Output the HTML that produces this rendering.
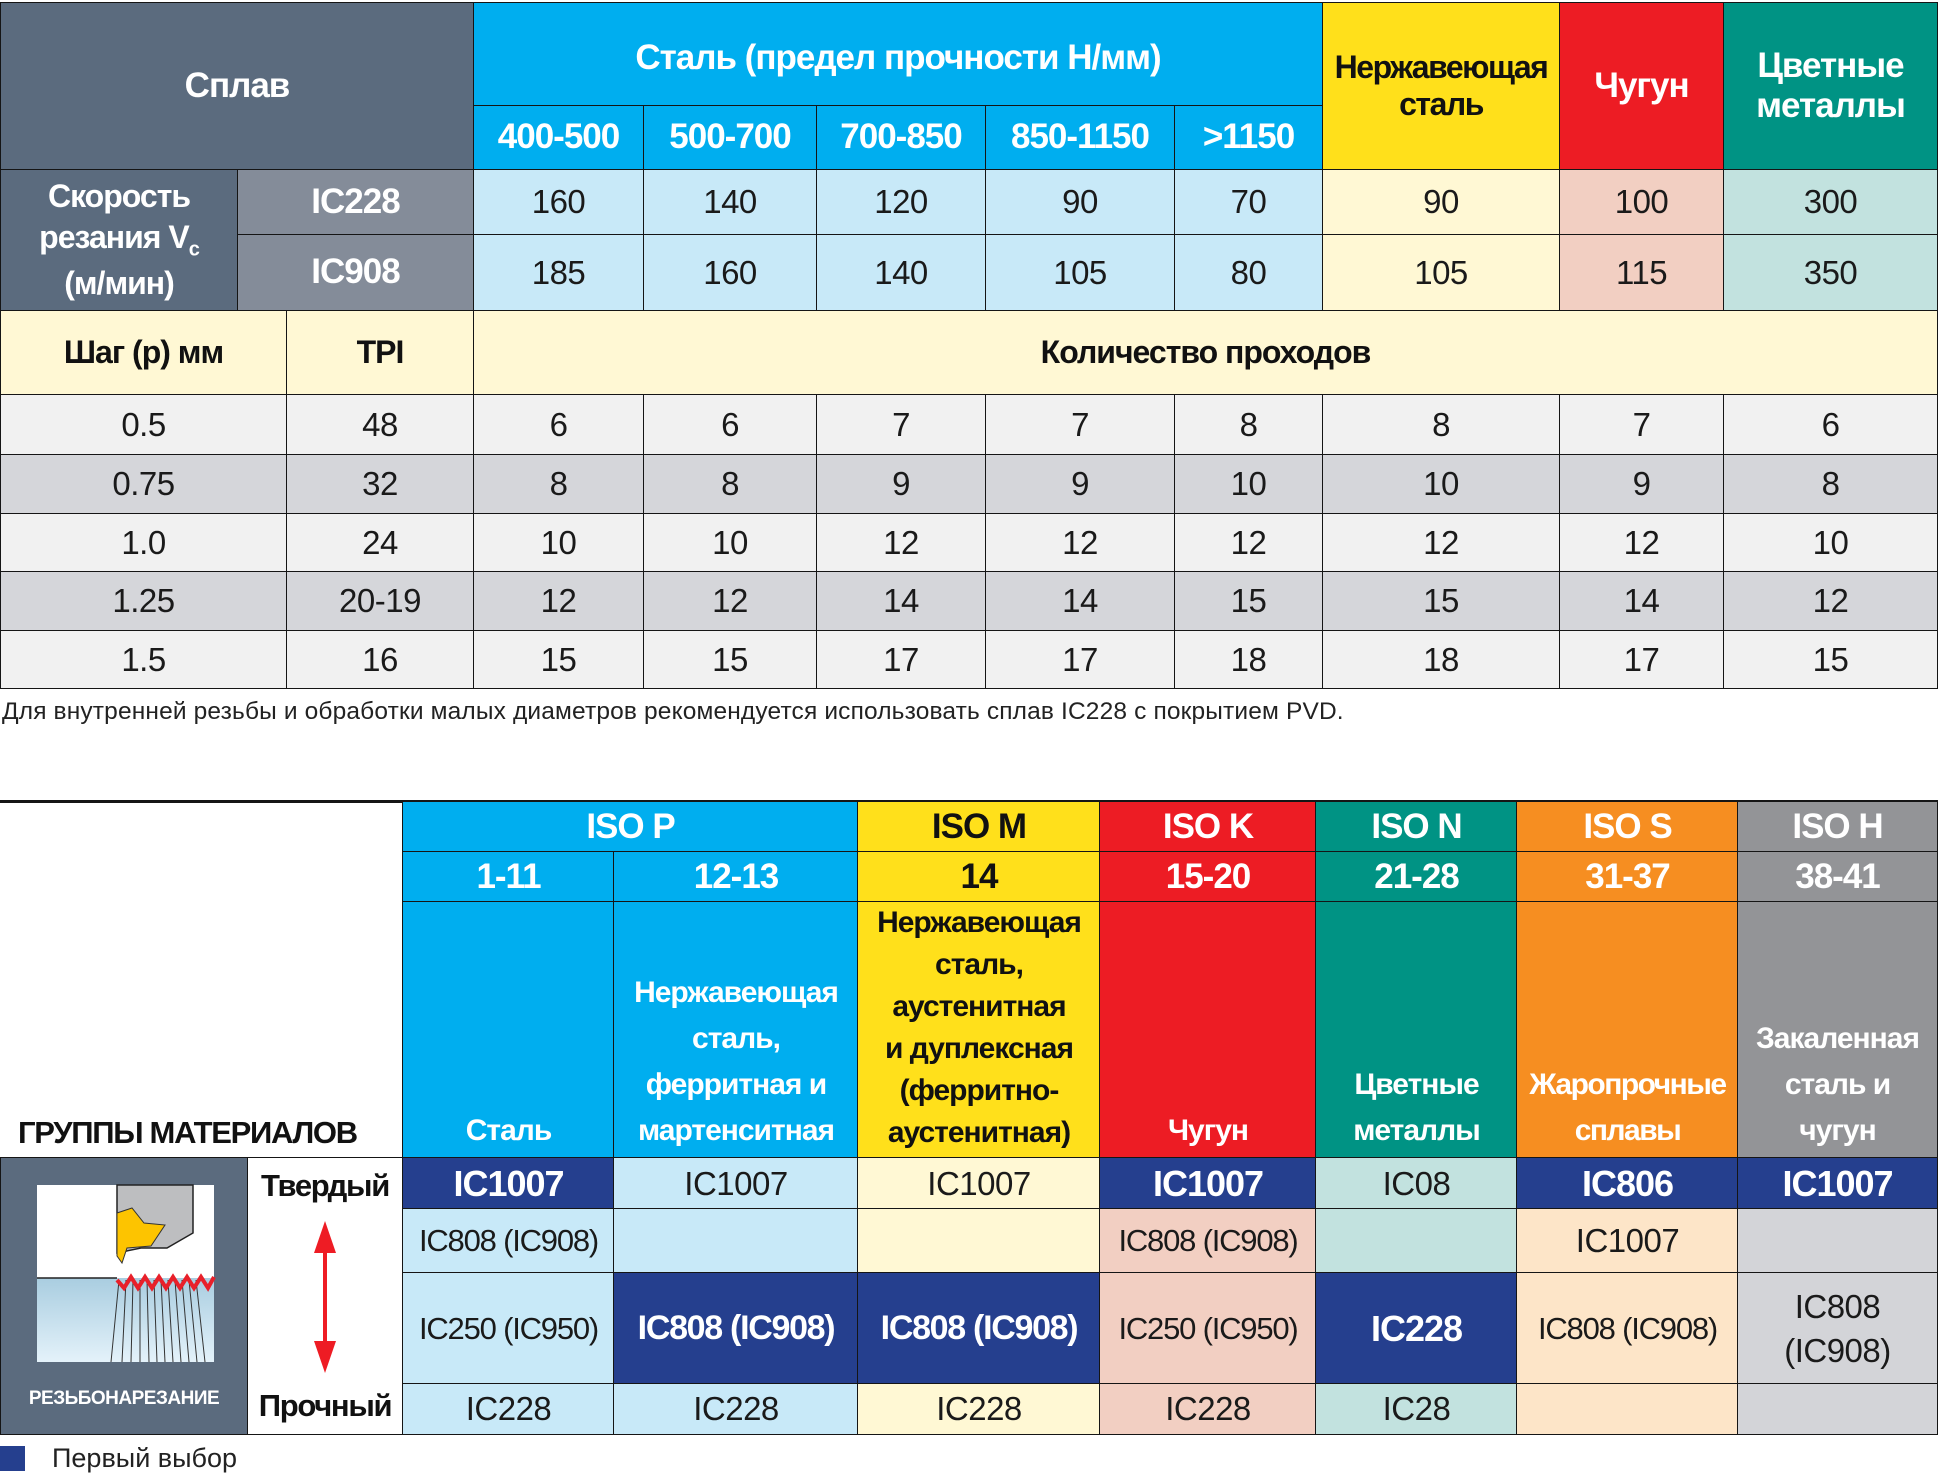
<!DOCTYPE html>
<html><head><meta charset="utf-8"><style>
body{margin:0;width:1938px;height:1483px;background:#fff;position:relative;overflow:hidden;font-family:"Liberation Sans Narrow","Liberation Sans",sans-serif;}
.c{position:absolute;box-sizing:border-box;border:1.5px solid #151515;display:flex;align-items:center;justify-content:center;text-align:center;color:#1a1a1a;font-size:33px;line-height:1.15;letter-spacing:-0.5px;}
.h{font-weight:bold;color:#fff;font-size:35px;letter-spacing:-1px}
.k{font-weight:bold;color:#111;font-size:35px;letter-spacing:-1px}
.s{background:#5b6b7e}.g{background:#848c99}
.cy{background:#00aeef}.lc{background:#c8e9f8}
.ye{background:#ffe01b}.ly{background:#fff8d4}
.re{background:#ed1c24}.pk{background:#f2cfc2}
.te{background:#009384}.lt{background:#c2e2df}
.or{background:#f68e21}.lo{background:#fde5c8}
.gr{background:#939497}.lg{background:#d3d4d8}
.nv{background:#253f8e;color:#fff;font-weight:bold;font-size:36px;letter-spacing:-1px}
.a{background:#f1f1f1}.b{background:#d5d6da}
.d{align-items:flex-end;padding-bottom:4px;font-size:30px;line-height:46px;font-weight:bold;color:#fff;letter-spacing:-1px}
.t{font-size:31px;letter-spacing:-1.2px}
</style></head><body>
<div class="c s h" style="left:0;top:2px;width:474px;height:168px">Сплав</div>
<div class="c cy h" style="left:473px;top:2px;width:850px;height:104px;padding-top:8px">Сталь (предел прочности Н/мм)</div>
<div class="c cy h" style="left:473px;top:105px;width:171px;height:65px">400-500</div>
<div class="c cy h" style="left:643px;top:105px;width:174px;height:65px">500-700</div>
<div class="c cy h" style="left:816px;top:105px;width:170px;height:65px">700-850</div>
<div class="c cy h" style="left:985px;top:105px;width:190px;height:65px">850-1150</div>
<div class="c cy h" style="left:1174px;top:105px;width:149px;height:65px">&gt;1150</div>
<div class="c ye k" style="left:1322px;top:2px;width:238px;height:168px;font-size:32px;letter-spacing:-1.5px">Нержавеющая<br>сталь</div>
<div class="c re h" style="left:1559px;top:2px;width:165px;height:168px">Чугун</div>
<div class="c te h" style="left:1723px;top:2px;width:215px;height:168px">Цветные<br>металлы</div>
<div class="c s h" style="left:0;top:169px;width:238px;height:142px;font-size:32px"><div style="line-height:1.3">Скорость<br>резания V<sub style="font-size:20px">c</sub><br>(м/мин)</div></div>
<div class="c g h" style="left:237px;top:169px;width:237px;height:66px">IC228</div>
<div class="c g h" style="left:237px;top:234px;width:237px;height:77px">IC908</div>
<div class="c lc" style="left:473px;top:169px;width:171px;height:66px">160</div>
<div class="c lc" style="left:643px;top:169px;width:174px;height:66px">140</div>
<div class="c lc" style="left:816px;top:169px;width:170px;height:66px">120</div>
<div class="c lc" style="left:985px;top:169px;width:190px;height:66px">90</div>
<div class="c lc" style="left:1174px;top:169px;width:149px;height:66px">70</div>
<div class="c ly" style="left:1322px;top:169px;width:238px;height:66px">90</div>
<div class="c pk" style="left:1559px;top:169px;width:165px;height:66px">100</div>
<div class="c lt" style="left:1723px;top:169px;width:215px;height:66px">300</div>
<div class="c lc" style="left:473px;top:234px;width:171px;height:77px">185</div>
<div class="c lc" style="left:643px;top:234px;width:174px;height:77px">160</div>
<div class="c lc" style="left:816px;top:234px;width:170px;height:77px">140</div>
<div class="c lc" style="left:985px;top:234px;width:190px;height:77px">105</div>
<div class="c lc" style="left:1174px;top:234px;width:149px;height:77px">80</div>
<div class="c ly" style="left:1322px;top:234px;width:238px;height:77px">105</div>
<div class="c pk" style="left:1559px;top:234px;width:165px;height:77px">115</div>
<div class="c lt" style="left:1723px;top:234px;width:215px;height:77px">350</div>
<div class="c ly k" style="left:0;top:310px;width:287px;height:85px;font-size:32px">Шаг (p) мм</div>
<div class="c ly k" style="left:286px;top:310px;width:188px;height:85px;font-size:32px">TPI</div>
<div class="c ly k" style="left:473px;top:310px;width:1465px;height:85px;font-size:32px">Количество проходов</div>
<div class="c a" style="left:0;top:394px;width:287px;height:61px">0.5</div><div class="c a" style="left:286px;top:394px;width:188px;height:61px">48</div>
<div class="c a" style="left:473px;top:394px;width:171px;height:61px">6</div><div class="c a" style="left:643px;top:394px;width:174px;height:61px">6</div><div class="c a" style="left:816px;top:394px;width:170px;height:61px">7</div><div class="c a" style="left:985px;top:394px;width:190px;height:61px">7</div><div class="c a" style="left:1174px;top:394px;width:149px;height:61px">8</div><div class="c a" style="left:1322px;top:394px;width:238px;height:61px">8</div><div class="c a" style="left:1559px;top:394px;width:165px;height:61px">7</div><div class="c a" style="left:1723px;top:394px;width:215px;height:61px">6</div>
<div class="c b" style="left:0;top:454px;width:287px;height:60px">0.75</div><div class="c b" style="left:286px;top:454px;width:188px;height:60px">32</div>
<div class="c b" style="left:473px;top:454px;width:171px;height:60px">8</div><div class="c b" style="left:643px;top:454px;width:174px;height:60px">8</div><div class="c b" style="left:816px;top:454px;width:170px;height:60px">9</div><div class="c b" style="left:985px;top:454px;width:190px;height:60px">9</div><div class="c b" style="left:1174px;top:454px;width:149px;height:60px">10</div><div class="c b" style="left:1322px;top:454px;width:238px;height:60px">10</div><div class="c b" style="left:1559px;top:454px;width:165px;height:60px">9</div><div class="c b" style="left:1723px;top:454px;width:215px;height:60px">8</div>
<div class="c a" style="left:0;top:513px;width:287px;height:59px">1.0</div><div class="c a" style="left:286px;top:513px;width:188px;height:59px">24</div>
<div class="c a" style="left:473px;top:513px;width:171px;height:59px">10</div><div class="c a" style="left:643px;top:513px;width:174px;height:59px">10</div><div class="c a" style="left:816px;top:513px;width:170px;height:59px">12</div><div class="c a" style="left:985px;top:513px;width:190px;height:59px">12</div><div class="c a" style="left:1174px;top:513px;width:149px;height:59px">12</div><div class="c a" style="left:1322px;top:513px;width:238px;height:59px">12</div><div class="c a" style="left:1559px;top:513px;width:165px;height:59px">12</div><div class="c a" style="left:1723px;top:513px;width:215px;height:59px">10</div>
<div class="c b" style="left:0;top:571px;width:287px;height:60px">1.25</div><div class="c b" style="left:286px;top:571px;width:188px;height:60px">20-19</div>
<div class="c b" style="left:473px;top:571px;width:171px;height:60px">12</div><div class="c b" style="left:643px;top:571px;width:174px;height:60px">12</div><div class="c b" style="left:816px;top:571px;width:170px;height:60px">14</div><div class="c b" style="left:985px;top:571px;width:190px;height:60px">14</div><div class="c b" style="left:1174px;top:571px;width:149px;height:60px">15</div><div class="c b" style="left:1322px;top:571px;width:238px;height:60px">15</div><div class="c b" style="left:1559px;top:571px;width:165px;height:60px">14</div><div class="c b" style="left:1723px;top:571px;width:215px;height:60px">12</div>
<div class="c a" style="left:0;top:630px;width:287px;height:59px">1.5</div><div class="c a" style="left:286px;top:630px;width:188px;height:59px">16</div>
<div class="c a" style="left:473px;top:630px;width:171px;height:59px">15</div><div class="c a" style="left:643px;top:630px;width:174px;height:59px">15</div><div class="c a" style="left:816px;top:630px;width:170px;height:59px">17</div><div class="c a" style="left:985px;top:630px;width:190px;height:59px">17</div><div class="c a" style="left:1174px;top:630px;width:149px;height:59px">18</div><div class="c a" style="left:1322px;top:630px;width:238px;height:59px">18</div><div class="c a" style="left:1559px;top:630px;width:165px;height:59px">17</div><div class="c a" style="left:1723px;top:630px;width:215px;height:59px">15</div>
<div style="position:absolute;left:2px;top:698px;font-size:24.5px;color:#222;white-space:nowrap;letter-spacing:0.15px">Для внутренней резьбы и обработки малых диаметров рекомендуется использовать сплав IC228 с покрытием PVD.</div>

<div style="position:absolute;left:0;top:800px;width:1938px;height:3px;background:#151515"></div>
<div style="position:absolute;left:18px;top:1115px;font-size:31px;font-weight:bold;color:#111;white-space:nowrap;letter-spacing:-1.3px">ГРУППЫ МАТЕРИАЛОВ</div>
<div class="c cy h" style="left:402px;top:801px;width:457px;height:52px">ISO P</div>
<div class="c ye k" style="left:857px;top:801px;width:244px;height:52px">ISO M</div>
<div class="c re h" style="left:1099px;top:801px;width:218px;height:52px">ISO K</div>
<div class="c te h" style="left:1315px;top:801px;width:203px;height:52px">ISO N</div>
<div class="c or h" style="left:1516px;top:801px;width:223px;height:52px">ISO S</div>
<div class="c gr h" style="left:1737px;top:801px;width:201px;height:52px">ISO H</div>
<div class="c cy h" style="left:402px;top:851px;width:213px;height:52px">1-11</div>
<div class="c cy h" style="left:613px;top:851px;width:246px;height:52px">12-13</div>
<div class="c ye k" style="left:857px;top:851px;width:244px;height:52px">14</div>
<div class="c re h" style="left:1099px;top:851px;width:218px;height:52px">15-20</div>
<div class="c te h" style="left:1315px;top:851px;width:203px;height:52px">21-28</div>
<div class="c or h" style="left:1516px;top:851px;width:223px;height:52px">31-37</div>
<div class="c gr h" style="left:1737px;top:851px;width:201px;height:52px">38-41</div>
<div class="c cy d" style="left:402px;top:901px;width:213px;height:258px">Сталь</div>
<div class="c cy d" style="left:613px;top:901px;width:246px;height:258px">Нержавеющая<br>сталь,<br>ферритная и<br>мартенситная</div>
<div class="c ye d" style="left:857px;top:901px;width:244px;height:258px;color:#111;line-height:42px">Нержавеющая<br>сталь,<br>аустенитная<br>и дуплексная<br>(ферритно-<br>аустенитная)</div>
<div class="c re d" style="left:1099px;top:901px;width:218px;height:258px">Чугун</div>
<div class="c te d" style="left:1315px;top:901px;width:203px;height:258px">Цветные<br>металлы</div>
<div class="c or d" style="left:1516px;top:901px;width:223px;height:258px;letter-spacing:-1.5px">Жаропрочные<br>сплавы</div>
<div class="c gr d" style="left:1737px;top:901px;width:201px;height:258px">Закаленная<br>сталь и<br>чугун</div>
<div class="c s" style="left:0;top:1157px;width:249px;height:278px;display:block">
<svg width="246" height="275" style="position:absolute;left:0;top:0">
<defs><linearGradient id="bl" x1="0" y1="0" x2="0" y2="1"><stop offset="0" stop-color="#a9cde0"/><stop offset="1" stop-color="#e4f2fa"/></linearGradient></defs>
<rect x="36" y="27" width="177" height="177" fill="#fff"/>
<rect x="36" y="120" width="177" height="84" fill="url(#bl)"/>
<line x1="36" y1="120" x2="116" y2="120" stroke="#222" stroke-width="1.5"/>
<path d="M116 27 H192 V75 L166 90 H140 L116 95 Z" fill="#bdbec0" stroke="#222" stroke-width="1.5"/>
<path d="M116 55 L131 50 L143 65 L164 67 L150 88 L126 90 L121 105 L116 98 Z" fill="#fdc400" stroke="#333" stroke-width="1"/>
<g stroke="#333" stroke-width="1">
<line x1="118" y1="122" x2="110" y2="204"/><line x1="125" y1="122" x2="121" y2="204"/><line x1="132" y1="122" x2="130" y2="204"/><line x1="139" y1="122" x2="139" y2="204"/><line x1="146" y1="122" x2="148" y2="204"/><line x1="153" y1="122" x2="156" y2="204"/><line x1="160" y1="122" x2="164" y2="204"/><line x1="167" y1="122" x2="172" y2="204"/><line x1="174" y1="122" x2="180" y2="204"/><line x1="181" y1="122" x2="188" y2="204"/><line x1="188" y1="122" x2="196" y2="204"/><line x1="195" y1="122" x2="204" y2="204"/>
</g>
<polyline points="116,122 123,130 130,119 137,130 144,119 151,130 158,119 165,130 172,119 179,130 186,119 193,130 200,119 207,130 213,119" fill="none" stroke="#e8202a" stroke-width="4"/>
</svg>
<div style="position:absolute;left:0;width:246px;top:230px;text-align:center;color:#fff;font-family:'Liberation Sans',sans-serif;font-weight:bold;font-size:19px">РЕЗЬБОНАРЕЗАНИЕ</div>
</div>
<div class="c" style="left:247px;top:1157px;width:157px;height:278px;display:block;background:#fff">
<div style="position:absolute;left:0;width:154px;top:10px;text-align:center;font-weight:bold;font-size:31px;letter-spacing:-1.3px;color:#111">Твердый</div>
<div style="position:absolute;left:0;width:154px;top:230px;text-align:center;font-weight:bold;font-size:31px;letter-spacing:-1.3px;color:#111">Прочный</div>
<svg width="154" height="275" style="position:absolute;left:0;top:0"><line x1="77" y1="80" x2="77" y2="190" stroke="#ee1c24" stroke-width="4"/><polygon points="77,63 66,95 88,95" fill="#ee1c24"/><polygon points="77,215 66,183 88,183" fill="#ee1c24"/></svg>
</div>
<div class="c nv" style="left:402px;top:1157px;width:213px;height:53px">IC1007</div>
<div class="c lc" style="left:613px;top:1157px;width:246px;height:53px">IC1007</div>
<div class="c ly" style="left:857px;top:1157px;width:244px;height:53px">IC1007</div>
<div class="c nv" style="left:1099px;top:1157px;width:218px;height:53px">IC1007</div>
<div class="c lt" style="left:1315px;top:1157px;width:203px;height:53px">IC08</div>
<div class="c nv" style="left:1516px;top:1157px;width:223px;height:53px">IC806</div>
<div class="c nv" style="left:1737px;top:1157px;width:201px;height:53px">IC1007</div>
<div class="c lc t" style="left:402px;top:1208px;width:213px;height:66px">IC808 (IC908)</div>
<div class="c lc" style="left:613px;top:1208px;width:246px;height:66px"></div>
<div class="c ly" style="left:857px;top:1208px;width:244px;height:66px"></div>
<div class="c pk t" style="left:1099px;top:1208px;width:218px;height:66px">IC808 (IC908)</div>
<div class="c lt" style="left:1315px;top:1208px;width:203px;height:66px"></div>
<div class="c lo" style="left:1516px;top:1208px;width:223px;height:66px">IC1007</div>
<div class="c lg" style="left:1737px;top:1208px;width:201px;height:66px"></div>
<div class="c lc t" style="left:402px;top:1272px;width:213px;height:113px">IC250 (IC950)</div>
<div class="c nv" style="left:613px;top:1272px;width:246px;height:113px;font-size:34px;letter-spacing:-1.3px">IC808 (IC908)</div>
<div class="c nv" style="left:857px;top:1272px;width:244px;height:113px;font-size:34px;letter-spacing:-1.3px">IC808 (IC908)</div>
<div class="c pk t" style="left:1099px;top:1272px;width:218px;height:113px">IC250 (IC950)</div>
<div class="c nv" style="left:1315px;top:1272px;width:203px;height:113px">IC228</div>
<div class="c lo t" style="left:1516px;top:1272px;width:223px;height:113px">IC808 (IC908)</div>
<div class="c lg" style="left:1737px;top:1272px;width:201px;height:113px;line-height:44px">IC808<br>(IC908)</div>
<div class="c lc" style="left:402px;top:1383px;width:213px;height:52px">IC228</div>
<div class="c lc" style="left:613px;top:1383px;width:246px;height:52px">IC228</div>
<div class="c ly" style="left:857px;top:1383px;width:244px;height:52px">IC228</div>
<div class="c pk" style="left:1099px;top:1383px;width:218px;height:52px">IC228</div>
<div class="c lt" style="left:1315px;top:1383px;width:203px;height:52px">IC28</div>
<div class="c lo" style="left:1516px;top:1383px;width:223px;height:52px"></div>
<div class="c lg" style="left:1737px;top:1383px;width:201px;height:52px"></div>
<div style="position:absolute;left:0;top:1446px;width:25px;height:25px;background:#253f8e"></div>
<div style="position:absolute;left:52px;top:1443px;font-size:27px;color:#222">Первый выбор</div>
</body></html>
